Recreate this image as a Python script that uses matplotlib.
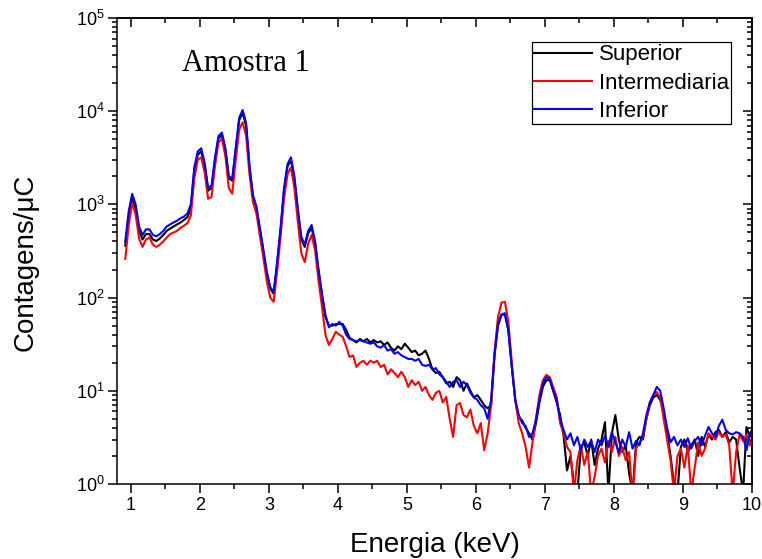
import numpy as np
import matplotlib
matplotlib.use("Agg")
import matplotlib.pyplot as plt
from matplotlib.ticker import MultipleLocator, LogLocator, NullFormatter

plt.rcParams['font.family'] = ['Liberation Sans', 'DejaVu Sans']
plt.rcParams['mathtext.default'] = 'regular'

# canais de energia (keV), passo de 0.05
energia = np.round(np.arange(0.92, 10.04, 0.05), 2)

# contagens/uC
superior = [
    360, 760, 1170, 900, 520, 420, 480, 480, 420, 405,
    430, 470, 520, 550, 580, 610, 640, 680, 730, 900,
    2300, 3400, 3700, 2600, 1400, 1500, 3000, 5100, 5600, 3800,
    1900, 1800, 3800, 8000, 9600, 7000, 2450, 1200, 900, 530,
    310, 180, 125, 110, 230, 530, 1400, 2550, 3000, 1850,
    850, 420, 350, 490, 560, 380, 190, 105, 62, 50,
    50, 52, 52,
    # 4.07 - 6.22
    52, 45, 37, 35, 33, 36, 34, 36, 33, 35,
    33, 34, 31, 33, 29, 27, 30, 28, 32, 29,
    26, 27, 24, 25, 27, 22, 17, 15.5, 16, 14,
    12, 12.5, 11, 14, 13, 10, 12, 10, 8.5, 9,
    8, 7, 6.5, 7,
    # 6.27 - 7.32
    24, 50, 65, 66, 44, 18, 8, 5.2, 4.8, 4.0,
    3.5, 3.0, 4.5, 7.5, 11, 13, 13, 10, 7.5, 5.5,
    3.3, 1.4,
    # 7.37 - 10.02
    2.0, 1.0, 0.8, 2.5, 2.8, 2.0, 3.0, 1.6, 2.4, 3.0,
    4.6, 0.8, 3.5, 5.5, 3.0, 2.2, 2.6, 1.3, 0.8, 2.8,
    3.2, 3.0, 5.0, 7, 8.5, 9, 8, 6, 3.5, 2.0,
    1.0, 0.8, 2.5, 3.0, 2.2, 2.6, 3.0, 2.0, 3.2, 2.5,
    3.4, 3.0, 3.6, 3.8, 3.2, 3.6, 2.8, 3.2, 3.0, 1.5,
    0.8, 4.1, 3.2, 4,
]

intermediaria = [
    260, 600, 1030, 780, 430, 350, 420, 440, 370, 350,
    370, 400, 440, 480, 500, 520, 560, 590, 630, 760,
    1900, 3000, 3200, 2200, 1150, 1200, 2600, 4600, 5100, 3300,
    1500, 1300, 3000, 6300, 7600, 5500, 2100, 1050, 800, 460,
    270, 150, 100, 90, 190, 450, 1150, 2100, 2500, 1500,
    650, 300, 240, 380, 470, 320, 150, 80, 40, 31,
    36, 43, 40,
    # 4.07 - 6.22
    38, 30, 23, 24, 18, 20, 21, 19, 21, 20,
    21, 18, 19, 15, 17, 15.5, 14, 16, 14, 11,
    13, 11.5, 12.5, 10, 11, 9, 8, 9.5, 10, 7.5,
    8.6, 5, 3.2, 7, 7.4, 5.5, 5.2, 6.3, 4.2, 3.5,
    4.5, 2.3, 3.5, 7,
    # 6.27 - 7.32
    26, 62, 88, 90, 55, 20, 8, 4.5, 3.5, 2.5,
    1.5, 2.8, 5, 9, 13, 14.8, 14, 11, 8.6, 4.5,
    3.5, 2.5,
    # 7.37 - 10.02
    2.2, 0.8, 1.8, 2.6, 1.6, 2.2, 0.8, 1.2, 2.0, 2.4,
    1.7, 2.9, 2.2, 3.2, 2.0, 2.5, 1.8, 2.2, 0.7, 2.4,
    2.8, 3.2, 5.0, 7.5, 9, 9.7, 8.5, 5, 3.0, 1.8,
    0.8, 2.0, 2.4, 1.5, 2.6, 0.8, 1.5, 2.8, 2.0, 2.4,
    3.5, 3.2, 3.0, 3.6, 3.2, 3.4, 2.6, 0.8, 2.2, 3.4,
    2.9, 3.4, 2.6, 3.5,
]

inferior = [
    400, 850, 1300, 1000, 580, 470, 540, 540, 470, 455,
    480, 520, 580, 610, 640, 670, 710, 740, 800, 1000,
    2500, 3700, 4000, 2800, 1500, 1600, 3200, 5400, 5900, 4000,
    2000, 1900, 4000, 8500, 10300, 7500, 2600, 1250, 950, 560,
    330, 190, 130, 115, 240, 560, 1500, 2700, 3200, 2000,
    900, 450, 370, 520, 600, 400, 200, 110, 65, 48,
    52, 50, 55,
    # 4.07 - 6.22
    50, 40, 36, 35, 34, 35, 34, 33, 32, 33,
    30, 29, 31, 27, 28, 25, 26, 24, 23, 22,
    22, 21, 22, 19, 18.5, 19, 17, 17.5, 15, 14,
    12.5, 11, 12.5, 13, 11, 12.5, 11.5, 9.5, 8.5, 8,
    7, 6.5, 5, 8,
    # 6.27 - 7.32
    25, 52, 66, 68, 45, 18, 8, 5.5, 4.5, 4.2,
    3.2, 3.5, 4.9, 8, 12, 14, 13.5, 10, 8, 5,
    3.8, 3.0,
    # 7.37 - 10.02
    3.5, 2.6, 3.2, 2.3, 3.0, 2.5, 2.9, 2.2, 3.0, 2.6,
    3.3, 2.5, 3.6, 2.8, 2.2, 3.0, 2.5, 3.6, 2.4, 2.9,
    2.6, 3.5, 5.5, 7.5, 9, 11, 10, 6.5, 4, 2.8,
    3.2, 2.6, 3.0, 2.5, 3.1, 2.4, 2.9, 3.2, 2.6, 3.3,
    4.1, 3.5, 3.2, 4.2, 4.9, 3.8, 3.5, 3.4, 3.6, 3.5,
    3.2, 2.3, 3.5, 4,
]

fig = plt.figure(figsize=(7.62, 5.59), dpi=100)
ax = fig.add_axes([117/762, 1 - 484/559, 635/762, 466/559])

ax.plot(energia, superior, color='black', lw=1.5, label='Superior')
ax.plot(energia, intermediaria, color='red', lw=1.5, label='Intermediaria')
ax.plot(energia, inferior, color='blue', lw=1.5, label='Inferior')

ax.set_yscale('log')
ax.set_xlim(0.8, 10)
ax.set_ylim(1, 1e5)

ax.xaxis.set_major_locator(MultipleLocator(1))
ax.xaxis.set_minor_locator(MultipleLocator(0.5))
ax.yaxis.set_major_locator(LogLocator(base=10, numticks=10))
ax.yaxis.set_minor_locator(LogLocator(base=10, subs=np.arange(2, 10), numticks=20))
ax.yaxis.set_minor_formatter(NullFormatter())
ax.tick_params(which='major', direction='out', length=6.5, width=1.1, labelsize=13, pad=2.5)
ax.tick_params(which='minor', direction='out', length=3.6, width=1.1)
for s in ax.spines.values():
    s.set_linewidth(1.1)

# ticks para dentro no topo e na direita
secx = ax.secondary_xaxis('top')
secx.xaxis.set_major_locator(MultipleLocator(1))
secx.xaxis.set_minor_locator(MultipleLocator(0.5))
secx.tick_params(which='major', direction='in', length=6.5, width=1.1, labeltop=False)
secx.tick_params(which='minor', direction='in', length=3.6, width=1.1)
secx.spines['top'].set_linewidth(1.1)

secy = ax.secondary_yaxis('right')
secy.yaxis.set_major_locator(LogLocator(base=10, numticks=10))
secy.yaxis.set_minor_locator(LogLocator(base=10, subs=np.arange(2, 10), numticks=20))
secy.yaxis.set_minor_formatter(NullFormatter())
secy.tick_params(which='major', direction='in', length=6.5, width=1.1, labelright=False)
secy.tick_params(which='minor', direction='in', length=3.6, width=1.1)
secy.spines['right'].set_linewidth(1.1)

ax.set_xlabel('Energia (keV)', fontsize=20)
ax.set_ylabel('Contagens/\u03bcC', fontsize=20)
ax.xaxis.set_label_coords(0.5, -0.104)
ax.yaxis.set_label_coords(-0.124, 0.476)

ax.text(0.102, 0.886, 'Amostra 1', transform=ax.transAxes, fontsize=22,
        family=['Liberation Serif', 'DejaVu Serif'], va='baseline')

leg = ax.legend(loc='upper right', bbox_to_anchor=(0.967, 0.948), borderaxespad=0,
                fontsize=16, fancybox=False, edgecolor='black', framealpha=1,
                borderpad=0.1, handlelength=2.6, handletextpad=0.3, labelspacing=0.32)
leg.get_frame().set_linewidth(0.9)

plt.savefig('out.png', dpi=100)
